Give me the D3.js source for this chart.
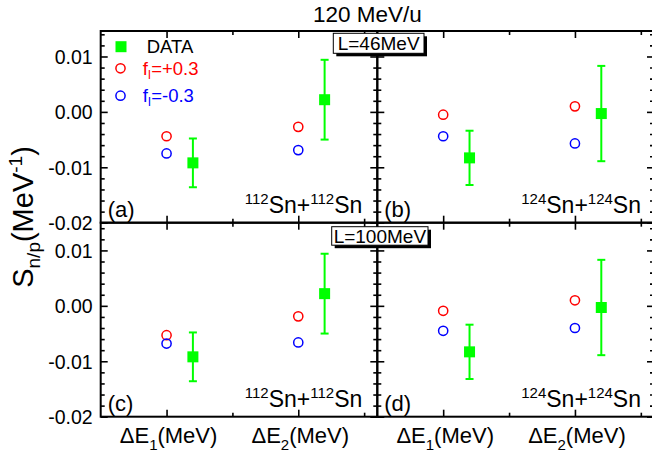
<!DOCTYPE html>
<html><head><meta charset="utf-8">
<script src="https://cdn.jsdelivr.net/npm/d3@7"></script>
<style>
body{margin:0;background:#fff}
svg{display:block}
text{font-family:"Liberation Sans",Arial,Helvetica,sans-serif;fill:#000}
</style>
</head><body>
<svg id="chart" width="652" height="453"></svg>
<script>
// ---------------- data ----------------
const categories = ["1", "2"];            // ΔE1, ΔE2 (subscript index)
const catPos = [1, 2];                    // x position of model points
const dataOffset = 0.2;                   // data points drawn shifted right
const panelLabels = ["(a)", "(b)", "(c)", "(d)"];
const reactionMass = ["112", "124", "112", "124"];
const boxLabels = ["L=46MeV", "L=100MeV"];
const yMajorTicks = [-0.02, -0.01, 0.00, 0.01];
const xMajorTicks = [1, 2];
const xMinorTicks = [1.5, 2.5];
const legendLabels = ["DATA", "+0.3", "-0.3"];

// DATA (green squares) and errors, per panel a,b,c,d ; [ΔE1, ΔE2]
const dataValues = [[-0.0092, 0.0022], [-0.0083, -0.0003], [-0.0092, 0.0022], [-0.0083, -0.0003]];
const dataErrors = [[0.0044, 0.0072], [0.0049, 0.0086], [0.0044, 0.0072], [0.0049, 0.0086]];
// f_I = +0.3 (red open circles)
const fPlusValues = [[-0.0044, -0.0027], [-0.0005, 0.0010], [-0.0053, -0.0019], [-0.0009, 0.0010]];
// f_I = -0.3 (blue open circles)
const fMinusValues = [[-0.0075, -0.0069], [-0.0044, -0.0057], [-0.0068, -0.0066], [-0.0045, -0.0040]];

// ---------------- layout ----------------
const svg = d3.select("#chart");
const cols = [[100.7, 377.3], [377.3, 654]];
const rows = [[31, 222.7], [222.7, 416.7]];
const yDomains = [[-0.02, 0.0146], [-0.02, 0.015]];
const xDomain = [0.5, 2.6];
const GREEN = "#00ff00", RED = "#ff0000", BLUE = "#0000ff";
const fmt = d => d.toFixed(2).replace("\u2212", "-");
const yMinorTicks = d3.range(-10, 8).filter(i => i % 5 !== 0).map(i => i * 0.002);

function panel(idx) {
  const c = idx % 2, r = Math.floor(idx / 2);
  const [x0, x1] = cols[c], [y0, y1] = rows[r];
  const x = d3.scaleLinear().domain(xDomain).range([x0, x1]);
  const y = d3.scaleLinear().domain(yDomains[r]).range([y1, y0]);
  const g = svg.append("g");

  // axes
  const addAxis = (axis, tr) => {
    const a = g.append("g").attr("transform", tr).call(axis);
    a.select(".domain").remove();
    a.selectAll("line").attr("stroke", "#000").attr("stroke-width", 1.6);
    return a;
  };
  const left = addAxis(d3.axisLeft(y).tickValues(yMajorTicks).tickSize(-7).tickPadding(8)
      .tickFormat(c === 0 ? fmt : () => ""), `translate(${x0},0)`);
  left.selectAll("text").style("font-size", "19.5px").attr("dy", "0.36em");
  addAxis(d3.axisLeft(y).tickValues(yMinorTicks).tickSize(-4).tickFormat(() => ""), `translate(${x0},0)`);
  addAxis(d3.axisRight(y).tickValues(yMajorTicks).tickSize(-7).tickFormat(() => ""), `translate(${x1},0)`);
  addAxis(d3.axisRight(y).tickValues(yMinorTicks).tickSize(-4).tickFormat(() => ""), `translate(${x1},0)`);
  addAxis(d3.axisBottom(x).tickValues(xMajorTicks).tickSize(-7).tickFormat(() => ""), `translate(0,${y1})`);
  addAxis(d3.axisBottom(x).tickValues(xMinorTicks).tickSize(-4).tickFormat(() => ""), `translate(0,${y1})`);
  addAxis(d3.axisTop(x).tickValues(xMajorTicks).tickSize(-7).tickFormat(() => ""), `translate(0,${y0})`);
  addAxis(d3.axisTop(x).tickValues(xMinorTicks).tickSize(-4).tickFormat(() => ""), `translate(0,${y0})`);

  g.append("rect").attr("x", x0).attr("y", y0).attr("width", x1 - x0).attr("height", y1 - y0)
    .attr("fill", "none").attr("stroke", "#000").attr("stroke-width", 2);

  // model circles
  const drawCircles = (vals, color) => {
    g.selectAll(null).data(vals).enter().append("circle")
      .attr("cx", (d, i) => x(catPos[i])).attr("cy", d => y(d)).attr("r", 4.6)
      .attr("fill", "none").attr("stroke", color).attr("stroke-width", 1.5);
  };
  drawCircles(fPlusValues[idx], RED);
  drawCircles(fMinusValues[idx], BLUE);

  // data with error bars
  const dv = dataValues[idx], de = dataErrors[idx];
  dv.forEach((v, i) => {
    const cx = x(catPos[i] + dataOffset);
    const yt = y(v + de[i]), yb = y(v - de[i]);
    g.append("line").attr("x1", cx).attr("x2", cx).attr("y1", yt).attr("y2", yb)
      .attr("stroke", GREEN).attr("stroke-width", 2);
    [yt, yb].forEach(yy => g.append("line").attr("x1", cx - 4).attr("x2", cx + 4)
      .attr("y1", yy).attr("y2", yy).attr("stroke", GREEN).attr("stroke-width", 2));
    g.append("rect").attr("x", cx - 5.5).attr("y", y(v) - 5.5).attr("width", 11).attr("height", 11)
      .attr("fill", GREEN);
  });

  // panel label
  g.append("text").attr("x", x0 + 7).attr("y", y1 - 6).style("font-size", "22px").text(panelLabels[idx]);
  // reaction label
  const rt = g.append("text").attr("x", x1 - (c === 0 ? 15 : 13)).attr("y", y1 - 10)
    .attr("text-anchor", "end").style("font-size", "23px");
  rt.append("tspan").style("font-size", "15px").attr("dy", -9).text(reactionMass[idx]);
  rt.append("tspan").attr("dy", 9).text("Sn+");
  rt.append("tspan").style("font-size", "15px").attr("dy", -9).text(reactionMass[idx]);
  rt.append("tspan").attr("dy", 9).text("Sn");

  // bottom category labels
  if (r === 1) {
    categories.forEach((cat, i) => {
      const t = g.append("text").attr("x", x(catPos[i]) + 2).attr("y", 443)
        .attr("text-anchor", "middle").style("font-size", "22px");
      t.append("tspan").text("\u0394E");
      t.append("tspan").style("font-size", "15px").attr("dy", 7).text(cat);
      t.append("tspan").attr("dy", -7).text("(MeV)");
    });
  }
  return {x, y};
}

[0, 1, 2, 3].forEach(panel);

// box labels with shadow
boxLabels.forEach((lab, r) => {
  const bx = r === 0 ? 333.3 : 331.7, by = r === 0 ? 33.3 : 226.7;
  const bw = r === 0 ? 90.7 : 96.3, bh = r === 0 ? 20 : 18.5;
  svg.append("rect").attr("x", bx + 3).attr("y", by + 3).attr("width", bw).attr("height", bh).attr("fill", "#000");
  svg.append("rect").attr("x", bx).attr("y", by).attr("width", bw).attr("height", bh)
    .attr("fill", "#fff").attr("stroke", "#000").attr("stroke-width", 1);
  svg.append("text").attr("x", bx + bw / 2).attr("y", by + bh / 2 + 6.8).attr("text-anchor", "middle")
    .style("font-size", "19px").text(lab);
});

// legend (panel a)
const lg = svg.append("g");
lg.append("rect").attr("x", 115.5).attr("y", 41.2).attr("width", 11).attr("height", 11).attr("fill", GREEN);
lg.append("text").attr("x", 146.7).attr("y", 53).style("font-size", "18.5px").text(legendLabels[0]);
[[RED, 68.3, legendLabels[1]], [BLUE, 95.7, legendLabels[2]]].forEach(([col, cy, lab]) => {
  lg.append("circle").attr("cx", 120.5).attr("cy", cy).attr("r", 4.6).attr("fill", "none")
    .attr("stroke", col).attr("stroke-width", 1.5);
  const t = lg.append("text").attr("x", 142.7).attr("y", cy + 6.5).style("font-size", "18.5px").style("fill", col);
  t.append("tspan").text("f");
  t.append("tspan").style("font-size", "12px").attr("dy", 4).text("I");
  t.append("tspan").attr("dy", -4).text("=" + lab);
});

// title
svg.append("text").attr("x", 367.4).attr("y", 21.7).attr("text-anchor", "middle")
  .style("font-size", "22.5px").text("120 MeV/u");

// y axis title
const yt = svg.append("text").attr("transform", "translate(33,217) rotate(-90)")
  .attr("text-anchor", "middle").style("font-size", "29px");
yt.append("tspan").text("S");
yt.append("tspan").style("font-size", "19px").attr("dy", 7).text("n/p");
yt.append("tspan").attr("dy", -7).text("(MeV");
yt.append("tspan").style("font-size", "19px").attr("dy", -11).text("-1");
yt.append("tspan").attr("dy", 11).text(")");
</script>
</body></html>
